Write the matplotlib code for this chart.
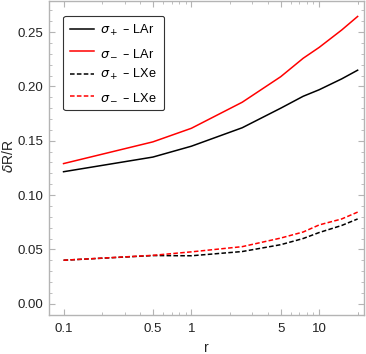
import matplotlib
matplotlib.use("Agg")
import matplotlib.pyplot as plt
from matplotlib.ticker import FixedLocator, NullFormatter, MultipleLocator

plt.rcParams['font.family'] = ['Liberation Sans', 'DejaVu Sans']
plt.rcParams['mathtext.fontset'] = 'dejavusans'

# ratio r
r = [0.1, 0.5, 1, 2.5, 5, 7.5, 10, 15, 20]

# relative resolution dR/R
sig_plus_lar = [0.1215, 0.135, 0.145, 0.162, 0.180, 0.191, 0.197, 0.207, 0.215]
sig_minus_lar = [0.129, 0.149, 0.1615, 0.1855, 0.209, 0.226, 0.236, 0.252, 0.2645]
sig_plus_lxe = [0.040, 0.0443, 0.0441, 0.048, 0.0543, 0.060, 0.0655, 0.072, 0.078]
sig_minus_lxe = [0.040, 0.0445, 0.0477, 0.0525, 0.0604, 0.066, 0.0725, 0.078, 0.0843]

x_ticks = [0.1, 0.5, 1, 5, 10]
x_tick_labels = ['0.1', '0.5', '1', '5', '10']

frame_col = '#b4b4b4'
text_col = '#222222'

fig = plt.figure(figsize=(3.66, 3.54), dpi=100)
ax = fig.add_axes([0.134, 0.110, 0.861, 0.888])

dash = (0, (3, 1.5))
ax.plot(r, sig_plus_lar, color='black', linewidth=1.1, label='$\\sigma_+$ – LAr')
ax.plot(r, sig_minus_lar, color='#ff0000', linewidth=1.1, label='$\\sigma_-$ – LAr')
ax.plot(r, sig_plus_lxe, color='black', linewidth=1.1, linestyle=dash, label='$\\sigma_+$ – LXe')
ax.plot(r, sig_minus_lxe, color='#ff0000', linewidth=1.1, linestyle=dash, label='$\\sigma_-$ – LXe')

ax.set_xscale('log')
ax.set_xlim(0.077, 22.5)
ax.set_ylim(-0.0105, 0.279)

ax.xaxis.set_major_locator(FixedLocator(x_ticks))
ax.set_xticklabels(x_tick_labels)
minors = [m * d for d in (0.1, 1, 10) for m in range(1, 10)] + [20]
ax.xaxis.set_minor_locator(FixedLocator([v for v in minors if v not in x_ticks]))
ax.xaxis.set_minor_formatter(NullFormatter())

ax.yaxis.set_major_locator(MultipleLocator(0.05))
ax.yaxis.set_minor_locator(MultipleLocator(0.01))
ax.yaxis.set_major_formatter(plt.FuncFormatter(lambda v, p: f'{v:.2f}'))

for s in ax.spines.values():
    s.set_color(frame_col)
    s.set_linewidth(1.0)

ax.tick_params(which='both', direction='in', top=True, right=True, color=frame_col,
               labelsize=9.5, labelcolor=text_col)
ax.tick_params(which='major', length=4.5, width=0.8)
ax.tick_params(which='minor', length=2.5, width=0.6)
ax.tick_params(axis='x', pad=6)
ax.tick_params(axis='y', pad=4)

ax.set_xlabel('r', fontsize=10, color=text_col, labelpad=4)
ax.set_ylabel('$\\delta$R/R', fontsize=10, color=text_col)
ax.yaxis.set_label_coords(-0.104, 0.505)

leg = ax.legend(loc='upper left', bbox_to_anchor=(0.045, 0.952), fontsize=9.2,
                handlelength=1.85, handletextpad=0.5, labelspacing=0.68,
                borderpad=0.55, borderaxespad=0.0, fancybox=True, framealpha=1.0)
leg.get_frame().set_edgecolor('#333333')
leg.get_frame().set_linewidth(0.8)

plt.savefig('out.png', dpi=100)
plt.close()
